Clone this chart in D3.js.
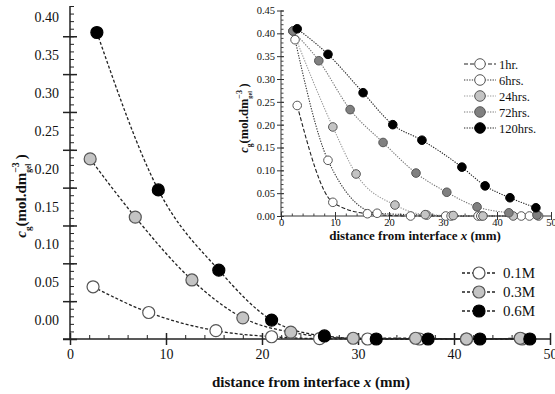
<!DOCTYPE html>
<html><head><meta charset="utf-8">
<script src="https://cdnjs.cloudflare.com/ajax/libs/d3/7.8.5/d3.min.js"></script>
<style>body{margin:0;background:#fff}svg{display:block}svg text{font-family:"Liberation Serif","Times New Roman","DejaVu Serif",serif !important;fill:#111}</style>
</head><body><svg id="c" width="555" height="394"></svg>
<script>
// ---- main chart data ----
const mainSeries = ["0.1M", "0.3M", "0.6M"];
const x01 = [2.4, 8.2, 15.2, 21.0, 26.0, 31.0, 36.4, 41.3, 47.1];
const y01 = [0.069, 0.035, 0.011, 0.003, 0.0005, 0, 0, 0, 0];
const x03 = [2.1, 6.8, 12.7, 18.0, 23.0, 29.5, 36.0, 41.3, 46.9];
const y03 = [0.238, 0.161, 0.078, 0.028, 0.009, 0.001, 0.001, 0, 0.001];
const x06 = [2.8, 9.2, 15.5, 21.0, 26.5, 31.9, 37.3, 42.7, 47.9];
const y06 = [0.405, 0.197, 0.091, 0.025, 0.004, 0, 0, 0, 0];
const mainYTicks = [0, 0.05, 0.10, 0.15, 0.20, 0.25, 0.30, 0.35, 0.40];
const mainXTicks = [0, 10, 20, 30, 40, 50];
// ---- inset data ----
const insetSeries = ["1hr.", "6hrs.", "24hrs.", "72hrs.", "120hrs."];
const x1h = [3.0, 9.6, 16.0, 24.0, 30.5, 36.5, 44.5];
const y1h = [0.242, 0.030, 0.005, 0.0, 0, 0, 0];
const x6h = [2.6, 8.7, 17.8, 27.0, 31.5, 37.0, 46.0];
const y6h = [0.386, 0.122, 0.006, 0.002, 0, 0, 0];
const x24h = [2.2, 9.6, 13.9, 21.1, 26.7, 31.9, 37.4, 43.0, 47.7];
const y24h = [0.405, 0.195, 0.092, 0.024, 0.003, 0.001, 0, 0, 0];
const x72h = [2.2, 7.0, 12.8, 18.9, 25.0, 30.7, 36.3, 42.2, 47.4];
const y72h = [0.405, 0.34, 0.233, 0.161, 0.094, 0.052, 0.02, 0.007, 0.002];
const x120h = [3.0, 8.7, 15.2, 20.7, 26.1, 33.5, 37.8, 42.4, 47.2];
const y120h = [0.41, 0.354, 0.27, 0.20, 0.166, 0.107, 0.066, 0.04, 0.018];
const insetYTicks = [0, 0.05, 0.10, 0.15, 0.20, 0.25, 0.30, 0.35, 0.40, 0.45];
const insetXTicks = [0, 10, 20, 30, 40, 50];

const svg = d3.select("#c");
const zip = (xs, ys) => xs.map((v, i) => [v, ys[i]]);
const SERIF = "Liberation Serif";

// ===== MAIN =====
const X = d3.scaleLinear([0, 50], [70, 550]);
const Y = d3.scaleLinear([0, 0.44], [339, 6]);
const gm = svg.append("g");
gm.append("line").attr("x1", 70).attr("x2", 70).attr("y1", Y(0.44)).attr("y2", Y(0)).attr("stroke", "#222").attr("stroke-width", 1.5);
gm.append("g").attr("transform", "translate(70,0)")
  .call(d3.axisRight(Y).tickValues(d3.range(0, 0.441, 0.01)).tickSize(4).tickFormat(""))
  .call(g => g.select(".domain").remove()).selectAll("line").attr("stroke", "#222");
gm.append("g").attr("transform", "translate(77,0)")
  .call(d3.axisLeft(Y).tickValues(mainYTicks).tickSize(14).tickFormat(""))
  .call(g => g.select(".domain").remove()).selectAll("line").attr("stroke", "#222").attr("stroke-width", 1.5);
const halfStep = Y(0) - Y(0.025);
gm.append("g").attr("transform", "translate(70,0)").attr("font-family", SERIF)
  .call(d3.axisLeft(Y).tickValues(mainYTicks).tickSize(0).tickPadding(11).tickFormat(d3.format(".2f")))
  .call(g => g.select(".domain").remove())
  .selectAll("text").attr("y", -halfStep).style("font-size", "14px").attr("fill", "#222");
gm.append("line").attr("x1", 63).attr("x2", X(50)).attr("y1", 339).attr("y2", 339).attr("stroke", "#222").attr("stroke-width", 1.5);
gm.append("g").attr("transform", "translate(0,339)")
  .call(d3.axisTop(X).tickValues(d3.range(0, 50.1, 2)).tickSize(4).tickFormat(""))
  .call(g => g.select(".domain").remove()).selectAll("line").attr("stroke", "#222");
gm.append("g").attr("transform", "translate(0,333)")
  .call(d3.axisBottom(X).tickValues(mainXTicks).tickSize(12).tickFormat(""))
  .call(g => g.select(".domain").remove()).selectAll("line").attr("stroke", "#222").attr("stroke-width", 1.5);
gm.append("g").attr("transform", "translate(0,339)").attr("font-family", SERIF)
  .call(d3.axisBottom(X).tickValues(mainXTicks).tickSize(0).tickPadding(10).tickFormat(d3.format("d")))
  .call(g => g.select(".domain").remove())
  .selectAll("text").style("font-size", "14px").attr("fill", "#222");
gm.append("text").attr("x", 311).attr("y", 387).attr("text-anchor", "middle")
  .style("font-size", "15px").style("font-weight", "bold")
  .html('distance from interface <tspan font-style="italic">x</tspan> (mm)');

function yLabel(parent, cx, cy, fs) {
  const g = parent.append("g").attr("transform", `translate(${cx},${cy}) rotate(-90)`);
  const inner = g.append("g");
  let px = 0;
  function piece(t, opts) {
    const el = inner.append("text").attr("x", px).attr("y", opts.dy || 0)
      .style("font-size", (opts.fs || fs) + "px").style("font-weight", "bold")
      .style("font-style", opts.it ? "italic" : "normal").text(t);
    const w = el.node().getComputedTextLength();
    if (!opts.noAdvance) px += w;
    return w;
  }
  piece("c", {it: true});
  piece("g", {fs: fs * 0.6, dy: fs * 0.3});
  piece(" (mol.dm", {});
  const w1 = piece("\u22123", {fs: fs * 0.65, dy: -fs * 0.45, noAdvance: true});
  const w2 = piece("gel", {fs: fs * 0.5, dy: fs * 0.35, noAdvance: true});
  px += Math.max(w1, w2) + fs * 0.2;
  piece(")", {});
  inner.attr("transform", `translate(${-px / 2},0)`);
}
yLabel(gm, 26, 196, 15);

const mainLine = d3.line().x(d => X(d[0])).y(d => Y(d[1])).curve(d3.curveMonotoneX);
const mainData = [zip(x01, y01), zip(x03, y03), zip(x06, y06)];
const mainFill = ["#ffffff", "#c4c4c4", "#000000"];
mainData.forEach((pts) => {
  gm.append("path").attr("d", mainLine(pts)).attr("fill", "none").attr("stroke", "#222")
    .attr("stroke-width", 1.3).attr("stroke-dasharray", "3,2");
});
mainData.forEach((pts, i) => {
  gm.selectAll(null).data(pts).join("circle").attr("cx", d => X(d[0])).attr("cy", d => Y(d[1]))
    .attr("r", 6).attr("fill", mainFill[i]).attr("stroke", i === 2 ? "#000" : "#555").attr("stroke-width", 1.2);
});
mainSeries.forEach((s, i) => {
  const yy = 273 + i * 19;
  gm.append("line").attr("x1", 462).attr("x2", 497).attr("y1", yy).attr("y2", yy)
    .attr("stroke", "#222").attr("stroke-width", 1.3).attr("stroke-dasharray", "3,2");
  gm.append("circle").attr("cx", 479).attr("cy", yy).attr("r", 6).attr("fill", mainFill[i])
    .attr("stroke", i === 2 ? "#000" : "#555").attr("stroke-width", 1.2);
  gm.append("text").attr("x", 503).attr("y", yy + 5).style("font-size", "15px").text(s);
});

// ===== INSET =====
const XI = d3.scaleLinear([0, 50], [281, 551]);
const YI = d3.scaleLinear([0, 0.45], [216, 10.5]);
const gi = svg.append("g");
gi.append("line").attr("x1", XI(0)).attr("x2", XI(0)).attr("y1", YI(0.45)).attr("y2", YI(0)).attr("stroke", "#333");
gi.append("g").attr("transform", `translate(${XI(0)},0)`)
  .call(d3.axisRight(YI).tickValues(d3.range(0, 0.451, 0.01)).tickSize(2.5).tickFormat(""))
  .call(g => g.select(".domain").remove()).selectAll("line").attr("stroke", "#444");
gi.append("g").attr("transform", `translate(${XI(0) + 3},0)`)
  .call(d3.axisLeft(YI).tickValues(insetYTicks).tickSize(7).tickFormat(""))
  .call(g => g.select(".domain").remove()).selectAll("line").attr("stroke", "#333");
gi.append("g").attr("transform", `translate(${XI(0)},0)`).attr("font-family", SERIF)
  .call(d3.axisLeft(YI).tickValues(insetYTicks).tickSize(0).tickPadding(6).tickFormat(d3.format(".2f")))
  .call(g => g.select(".domain").remove())
  .selectAll("text").style("font-size", "10.5px").attr("fill", "#333");
gi.append("line").attr("x1", XI(0)).attr("x2", XI(50)).attr("y1", YI(0)).attr("y2", YI(0)).attr("stroke", "#333");
gi.append("g").attr("transform", `translate(0,${YI(0)})`)
  .call(d3.axisTop(XI).tickValues(d3.range(0, 50.1, 2)).tickSize(2.5).tickFormat(""))
  .call(g => g.select(".domain").remove()).selectAll("line").attr("stroke", "#444");
gi.append("g").attr("transform", `translate(0,${YI(0) - 4})`)
  .call(d3.axisBottom(XI).tickValues(insetXTicks).tickSize(8).tickFormat(""))
  .call(g => g.select(".domain").remove()).selectAll("line").attr("stroke", "#333");
gi.append("g").attr("transform", `translate(0,${YI(0)})`).attr("font-family", SERIF)
  .call(d3.axisBottom(XI).tickValues(insetXTicks).tickSize(0).tickPadding(3).tickFormat(d3.format("d")))
  .call(g => g.select(".domain").remove())
  .selectAll("text").style("font-size", "10.5px").attr("fill", "#333");
gi.append("text").attr("x", 415).attr("y", 240).attr("text-anchor", "middle")
  .style("font-size", "13px").style("font-weight", "bold")
  .html('distance from interface <tspan font-style="italic">x</tspan> (mm)');
yLabel(gi, 248, 118, 12.5);

const insetLine = d3.line().x(d => XI(d[0])).y(d => YI(d[1])).curve(d3.curveMonotoneX);
const insetData = [zip(x1h, y1h), zip(x6h, y6h), zip(x24h, y24h), zip(x72h, y72h), zip(x120h, y120h)];
const insetFill = ["#ffffff", "#ffffff", "#c4c4c4", "#808080", "#000000"];
const insetStroke = ["#222", "#333", "#999", "#777", "#222"];
const insetDash = ["4,2", "1.3,1.3", "1.3,1.3", "1.3,1.3", "1.3,1.3"];
insetData.forEach((pts, i) => {
  gi.append("path").attr("d", insetLine(pts)).attr("fill", "none").attr("stroke", insetStroke[i])
    .attr("stroke-width", 1.1).attr("stroke-dasharray", insetDash[i]);
});
insetData.forEach((pts, i) => {
  gi.selectAll(null).data(pts).join("circle").attr("cx", d => XI(d[0])).attr("cy", d => YI(d[1]))
    .attr("r", 4.3).attr("fill", insetFill[i]).attr("stroke", i === 4 ? "#000" : "#555").attr("stroke-width", 1);
});
insetSeries.forEach((s, i) => {
  const yy = 64 + i * 16;
  gi.append("line").attr("x1", 464).attr("x2", 496).attr("y1", yy).attr("y2", yy)
    .attr("stroke", insetStroke[i]).attr("stroke-width", 1.1).attr("stroke-dasharray", insetDash[i]);
  gi.append("circle").attr("cx", 480).attr("cy", yy).attr("r", 5.3).attr("fill", insetFill[i])
    .attr("stroke", i === 4 ? "#000" : "#555").attr("stroke-width", 1);
  gi.append("text").attr("x", 499).attr("y", yy + 4.5).style("font-size", "12.5px").text(s);
});
</script></body></html>
